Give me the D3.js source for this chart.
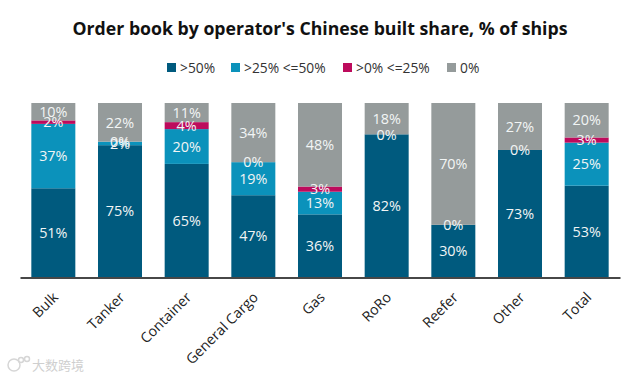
<!DOCTYPE html>
<html>
<head>
<meta charset="utf-8">
<script src="https://cdn.jsdelivr.net/npm/d3@7"></script>
<style>
  html, body { margin: 0; background: #fff; }
  svg { display: block; }
  text { font-family: "Open Sans", "Noto Sans", sans-serif; }
</style>
</head>
<body>
<div id="chart"></div>
<script>
const width = 640,
  height = 378;

const categories = ["Bulk", "Tanker", "Container", "General Cargo", "Gas", "RoRo", "Reefer", "Other", "Total"];
const seriesNames = [">50%", ">25% <=50%", ">0% <=25%", "0%"];
const seriesColors = ["#005a7e", "#0b92bb", "#bd0b5c", "#959b9b"];

const over50 = [51, 75, 65, 47, 36, 82, 30, 73, 53];
const over25 = [37, 2, 20, 19, 13, 0, 0, 0, 25];
const over0 = [2, 0, 4, 0, 3, 0, 0, 0, 3];
const zero = [10, 22, 11, 34, 48, 18, 70, 27, 20];

const title = "Order book by operator's Chinese built share, % of ships";
const watermark = "大数跨境";

const rows = categories.map((c, i) => ({
  category: c,
  [seriesNames[0]]: over50[i],
  [seriesNames[1]]: over25[i],
  [seriesNames[2]]: over0[i],
  [seriesNames[3]]: zero[i]
}));

const stacked = d3.stack()
  .keys(seriesNames)
  .offset(d3.stackOffsetExpand)(rows);

const x = d3.scaleBand()
  .domain(categories)
  .range([20, 620])
  .paddingInner(0.34)
  .paddingOuter(0.17);

const y = d3.scaleLinear()
  .domain([0, 1])
  .range([277, 103]);

const color = d3.scaleOrdinal(seriesNames, seriesColors);

const svg = d3.select("#chart")
  .append("svg")
  .attr("width", width)
  .attr("height", height);

svg.append("text")
  .attr("x", 320)
  .attr("y", 34.5)
  .attr("text-anchor", "middle")
  .attr("font-size", 17.7)
  .attr("font-weight", 700)
  .attr("fill", "#111")
  .text(title);

// legend, spacing
const legendX = d3.scaleOrdinal(seriesNames, [167, 231, 343, 447]);
const legend = svg.append("g")
  .selectAll("g")
  .data(seriesNames)
  .join("g")
  .attr("transform", d => `translate(${legendX(d)},63)`);

legend.append("rect")
  .attr("width", 9)
  .attr("height", 9)
  .attr("fill", d => color(d));

legend.append("text")
  .attr("x", 13)
  .attr("y", 9.8)
  .attr("font-size", 13.8)
  .attr("fill", "#333")
  .text(d => d);

const groups = svg.append("g")
  .selectAll("g")
  .data(stacked)
  .join("g")
  .attr("fill", d => color(d.key));

groups.selectAll("rect")
  .data(d => d)
  .join("rect")
  .attr("x", d => x(d.data.category))
  .attr("y", d => y(d[1]))
  .attr("width", x.bandwidth())
  .attr("height", d => y(d[0]) - y(d[1]));

const axis = svg.append("g")
  .attr("transform", "translate(0,277.5)")
  .call(d3.axisBottom(x).tickSize(0));

axis.select(".domain")
  .attr("stroke", "#0a0a0a")
  .attr("stroke-width", 1.6);

axis.selectAll("text")
  .attr("font-family", null)
  .attr("font-size", 14.2)
  .attr("fill", "#222")
  .attr("text-anchor", "end")
  .attr("dy", null)
  .attr("y", null)
  .attr("transform", "translate(3,18) rotate(-45)")
  .attr("dominant-baseline", "middle");

// value labels sit in the middle of each segment
// a run of empty segments lands on one spot, so only the first one gets a label
const labels = stacked.flatMap((s, k) => s.map((v, i) => ({
  v,
  value: v.data[s.key],
  repeat: k > 0 && v.data[s.key] === 0 && stacked[k - 1][i].data[stacked[k - 1].key] === 0
}))).filter(d => !d.repeat);

svg.append("g")
  .selectAll("text")
  .data(labels)
  .join("text")
  .attr("x", d => x(d.v.data.category) + x.bandwidth() / 2)
  .attr("y", d => y((d.v[0] + d.v[1]) / 2))
  .attr("dy", "0.36em")
  .attr("text-anchor", "middle")
  .attr("font-size", 14.4)
  .attr("fill", "#f2f5f5")
  .text(d => d.value + "%");

svg.append("text")
  .attr("x", 32)
  .attr("y", 370)
  .attr("font-size", 13)
  .style("font-family", '"Noto Sans CJK SC"')
  .attr("fill", "#cfcfcf")
  .text(watermark);

// watermark logo
svg.append("g")
  .attr("fill", "none")
  .attr("stroke", "#d6d6d6")
  .attr("stroke-width", 1.5)
  .selectAll("circle")
  .data([[14, 365, 6], [21, 360, 2.5], [27, 359, 2.5]])
  .join("circle")
  .attr("cx", d => d[0])
  .attr("cy", d => d[1])
  .attr("r", d => d[2]);
</script>
</body>
</html>
